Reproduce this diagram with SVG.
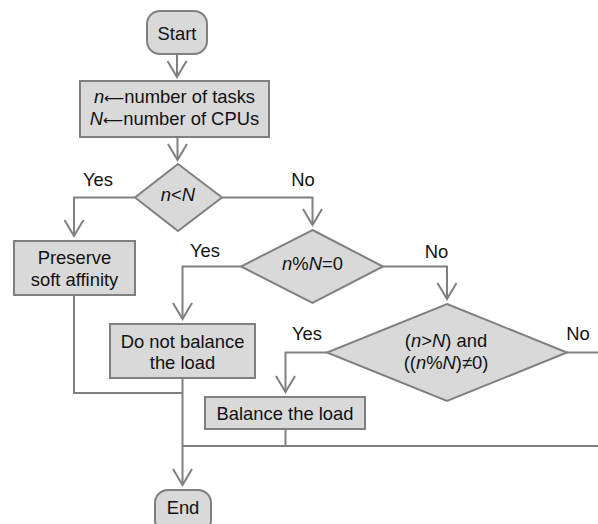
<svg xmlns="http://www.w3.org/2000/svg" width="598" height="524" viewBox="0 0 598 524">
<defs>
<style>
.box{fill:#d9d9d9;stroke:#808080;stroke-width:2}
.t{font-family:"Liberation Sans",Arial,sans-serif;font-size:18.4px;fill:#111;text-anchor:middle}
.lbl{font-family:"Liberation Sans",Arial,sans-serif;font-size:18.4px;fill:#111;text-anchor:middle}
.i{font-style:italic}
.ar{font-family:"DejaVu Sans",sans-serif;font-size:14px}
.c{fill:none;stroke:#808080;stroke-width:2}
</style>
<marker id="ah" markerUnits="userSpaceOnUse" markerWidth="22" markerHeight="24" viewBox="-19 -12 22 24" refX="0" refY="0" orient="auto" overflow="visible">
<path d="M-16,-9.5 L0,0 L-16,9.5" fill="none" stroke="#808080" stroke-width="2"/>
</marker>
</defs>
<rect width="598" height="524" fill="#fff"/>
<g id="connectors">
<path class="c" d="M177,54 V77" marker-end="url(#ah)"/>
<path class="c" d="M177.5,137 V160" marker-end="url(#ah)"/>
<path class="c" d="M135,197.5 H74 V236" marker-end="url(#ah)"/>
<path class="c" d="M222,197.5 H312.5 V225" marker-end="url(#ah)"/>
<path class="c" d="M241,266.5 H182.5 V319" marker-end="url(#ah)"/>
<path class="c" d="M383,266.5 H447 V299" marker-end="url(#ah)"/>
<path class="c" d="M327,352.5 H285.5 V392" marker-end="url(#ah)"/>
<path class="c" d="M567,352.5 H610 V446 H182.5"/>
<path class="c" d="M285.5,429 V446"/>
<path class="c" d="M74,295 V393 H182.5"/>
<path class="c" d="M182.5,378 V485" marker-end="url(#ah)"/>
<text class="lbl" x="98" y="186">Yes</text>
<text class="lbl" x="303" y="186">No</text>
<text class="lbl" x="205" y="257">Yes</text>
<text class="lbl" x="436.5" y="258">No</text>
<text class="lbl" x="307" y="340">Yes</text>
<text class="lbl" x="578" y="340">No</text>
</g>
<g id="start">
<rect class="box" x="147" y="11" width="60" height="43" rx="13"/>
<text class="t" x="177" y="39.5">Start</text>
</g>
<g id="init">
<rect class="box" x="80" y="81" width="189" height="56"/>
<text class="t" x="174.5" y="103"><tspan class="i">n</tspan><tspan class="ar">⟵</tspan>number of tasks</text>
<text class="t" x="174.5" y="125"><tspan class="i">N</tspan><tspan class="ar">⟵</tspan>number of CPUs</text>
</g>
<g id="dec1">
<polygon class="box" points="178,164 222,197.5 178,231 135,197.5"/>
<text class="t" x="178" y="201"><tspan class="i">n</tspan>&lt;<tspan class="i">N</tspan></text>
</g>
<g id="preserve">
<rect class="box" x="14" y="241" width="121" height="54"/>
<text class="t" x="74.5" y="264">Preserve</text>
<text class="t" x="74.5" y="286">soft affinity</text>
</g>
<g id="dec2">
<polygon class="box" points="312.5,230 383,266.5 312.5,303 241,266.5"/>
<text class="t" x="312.5" y="270"><tspan class="i">n</tspan>%<tspan class="i">N</tspan>=0</text>
</g>
<g id="nobalance">
<rect class="box" x="110" y="324" width="145" height="54"/>
<text class="t" x="182.5" y="348">Do not balance</text>
<text class="t" x="182.5" y="369">the load</text>
</g>
<g id="dec3">
<polygon class="box" points="447,304 567,352.5 447,401 327,352.5"/>
<text class="t" x="446" y="347">(<tspan class="i">n</tspan>&gt;<tspan class="i">N</tspan>) and</text>
<text class="t" x="446" y="369">((<tspan class="i">n</tspan>%<tspan class="i">N</tspan>)≠0)</text>
</g>
<g id="balance">
<rect class="box" x="205" y="397" width="160" height="32"/>
<text class="t" x="285" y="420">Balance the load</text>
</g>
<g id="end">
<rect class="box" x="155" y="490" width="56" height="43" rx="13"/>
<text class="t" x="183" y="514">End</text>
</g>
</svg>
